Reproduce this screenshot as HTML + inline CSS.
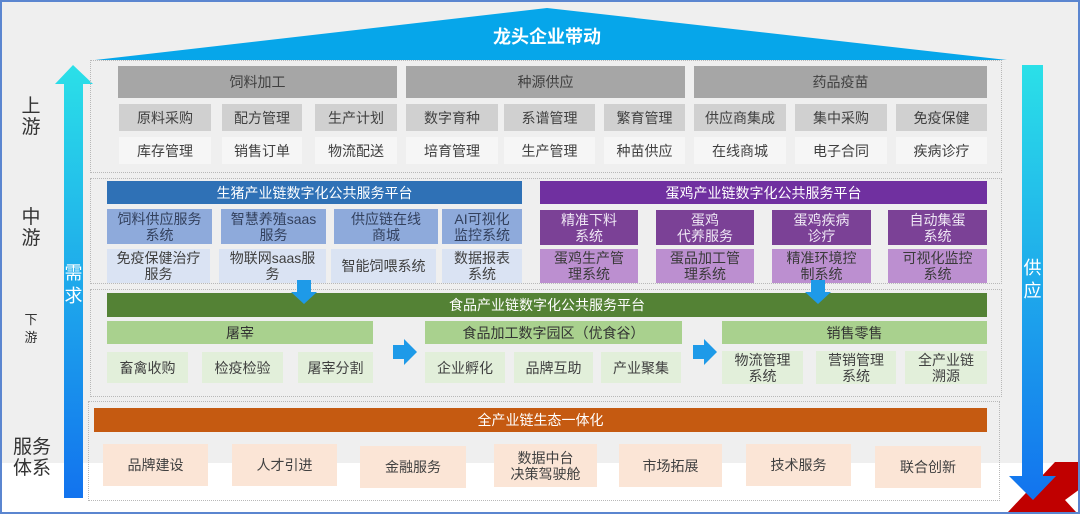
<!DOCTYPE html>
<html><head><meta charset="utf-8">
<style>
html,body{margin:0;padding:0;}
body{width:1080px;height:514px;position:relative;overflow:hidden;background:#efefef;font-family:"Liberation Sans","Noto Sans CJK SC",sans-serif;color:#404040;}
.abs{position:absolute;}
.b{position:absolute;display:flex;align-items:center;justify-content:center;text-align:center;font-size:14px;line-height:16px;box-sizing:border-box;}
.sec{position:absolute;border:1px dotted #b8b8b8;box-sizing:border-box;}
.lbl{position:absolute;font-size:19px;line-height:21px;color:#333;text-align:center;}
.h{background:#a6a6a6;color:#404040;font-size:14px;}
.g2{background:#d0d0d0;}
.g3{background:#f6f6f6;}
.pb{background:#2f71b6;color:#fff;}
.pa{background:#8eaadb;color:#33415e;}
.pc{background:#dae3f3;}
.eb{background:#7030a0;color:#fff;}
.ea{background:#7b4196;color:#eee6f4;}
.ec{background:#bc8fd0;color:#3a3a3a;}
.gb{background:#548235;color:#fff;}
.gs{background:#a9d18e;color:#333;}
.gi{background:#e2efda;}
.ob{background:#c55a11;color:#fff;}
.oi{background:#fbe5d6;}
</style></head>
<body>
<div class="abs" style="left:0;top:463px;width:1080px;height:51px;background:#fff;"></div>

<svg class="abs" style="left:0;top:0" width="1080" height="514">
<defs>
<linearGradient id="ga" x1="0" y1="0" x2="0" y2="1">
<stop offset="0" stop-color="#2be0e8"/><stop offset="1" stop-color="#1273ee"/>
</linearGradient>
</defs>
<polygon points="95,60 547,8 1007,60" fill="#06a6ea"/>
<polygon points="1008,512 1055,462 1080,462 1080,489 1065,500 1076,512" fill="#c00000"/>
<polygon points="64,498 64,84 55,84 73,65 93,84 83,84 83,498" fill="url(#ga)"/>
<polygon points="1022,65 1043,65 1043,476 1056,476 1033,500 1009,476 1022,476" fill="url(#ga)"/>
</svg>

<div class="abs" style="left:447px;top:26px;width:200px;text-align:center;color:#fff;font-weight:bold;font-size:18px;line-height:22px;">龙头企业带动</div>

<div class="lbl" style="left:18px;top:96px;width:26px;">上<br>游</div>
<div class="lbl" style="left:18px;top:207px;width:26px;">中<br>游</div>
<div class="lbl" style="left:22px;top:311px;width:18px;font-size:13px;line-height:18px;">下<br>游</div>
<div class="lbl" style="left:11px;top:437px;width:42px;">服务<br>体系</div>

<div class="abs" style="left:63px;top:262px;width:21px;text-align:center;color:#fff;font-size:18px;line-height:23px;">需<br>求</div>
<div class="abs" style="left:1022px;top:257px;width:21px;text-align:center;color:#fff;font-size:18px;line-height:23px;">供<br>应</div>

<!-- Section 1 -->
<div class="sec" style="left:90px;top:60px;width:912px;height:113px;"></div>
<div class="b h" style="left:118px;top:66px;width:279px;height:32px;">饲料加工</div>
<div class="b h" style="left:406px;top:66px;width:279px;height:32px;">种源供应</div>
<div class="b h" style="left:694px;top:66px;width:293px;height:32px;">药品疫苗</div>

<div class="b g2" style="left:119px;top:104px;width:92px;height:27px;">原料采购</div>
<div class="b g2" style="left:222px;top:104px;width:80px;height:27px;">配方管理</div>
<div class="b g2" style="left:315px;top:104px;width:82px;height:27px;">生产计划</div>
<div class="b g2" style="left:406px;top:104px;width:92px;height:27px;">数字育种</div>
<div class="b g2" style="left:504px;top:104px;width:91px;height:27px;">系谱管理</div>
<div class="b g2" style="left:604px;top:104px;width:81px;height:27px;">繁育管理</div>
<div class="b g2" style="left:694px;top:104px;width:92px;height:27px;">供应商集成</div>
<div class="b g2" style="left:795px;top:104px;width:92px;height:27px;">集中采购</div>
<div class="b g2" style="left:896px;top:104px;width:91px;height:27px;">免疫保健</div>

<div class="b g3" style="left:119px;top:137px;width:92px;height:27px;">库存管理</div>
<div class="b g3" style="left:222px;top:137px;width:80px;height:27px;">销售订单</div>
<div class="b g3" style="left:315px;top:137px;width:82px;height:27px;">物流配送</div>
<div class="b g3" style="left:406px;top:137px;width:92px;height:27px;">培育管理</div>
<div class="b g3" style="left:504px;top:137px;width:91px;height:27px;">生产管理</div>
<div class="b g3" style="left:604px;top:137px;width:81px;height:27px;">种苗供应</div>
<div class="b g3" style="left:694px;top:137px;width:92px;height:27px;">在线商城</div>
<div class="b g3" style="left:795px;top:137px;width:92px;height:27px;">电子合同</div>
<div class="b g3" style="left:896px;top:137px;width:91px;height:27px;">疾病诊疗</div>

<!-- Section 2 -->
<div class="sec" style="left:90px;top:178px;width:912px;height:106px;"></div>
<div class="b pb" style="left:107px;top:181px;width:415px;height:23px;">生猪产业链数字化公共服务平台</div>
<div class="b eb" style="left:540px;top:181px;width:447px;height:23px;">蛋鸡产业链数字化公共服务平台</div>

<div class="b pa" style="left:107px;top:209px;width:105px;height:35px;">饲料供应服务<br>系统</div>
<div class="b pa" style="left:221px;top:209px;width:105px;height:35px;">智慧养殖saas<br>服务</div>
<div class="b pa" style="left:334px;top:209px;width:104px;height:35px;">供应链在线<br>商城</div>
<div class="b pa" style="left:442px;top:209px;width:80px;height:35px;">AI可视化<br>监控系统</div>

<div class="b pc" style="left:107px;top:249px;width:103px;height:34px;">免疫保健治疗<br>服务</div>
<div class="b pc" style="left:219px;top:249px;width:107px;height:34px;">物联网saas服<br>务</div>
<div class="b pc" style="left:331px;top:249px;width:105px;height:34px;">智能饲喂系统</div>
<div class="b pc" style="left:442px;top:249px;width:80px;height:34px;">数据报表<br>系统</div>

<div class="b ea" style="left:540px;top:210px;width:98px;height:35px;">精准下料<br>系统</div>
<div class="b ea" style="left:656px;top:210px;width:98px;height:35px;">蛋鸡<br>代养服务</div>
<div class="b ea" style="left:772px;top:210px;width:99px;height:35px;">蛋鸡疾病<br>诊疗</div>
<div class="b ea" style="left:888px;top:210px;width:99px;height:35px;">自动集蛋<br>系统</div>

<div class="b ec" style="left:540px;top:249px;width:98px;height:34px;">蛋鸡生产管<br>理系统</div>
<div class="b ec" style="left:656px;top:249px;width:98px;height:34px;">蛋品加工管<br>理系统</div>
<div class="b ec" style="left:772px;top:249px;width:99px;height:34px;">精准环境控<br>制系统</div>
<div class="b ec" style="left:888px;top:249px;width:99px;height:34px;">可视化监控<br>系统</div>

<!-- Section 3 -->
<div class="sec" style="left:90px;top:289px;width:912px;height:108px;"></div>
<div class="b gb" style="left:107px;top:293px;width:880px;height:24px;">食品产业链数字化公共服务平台</div>
<div class="b gs" style="left:107px;top:321px;width:266px;height:23px;">屠宰</div>
<div class="b gs" style="left:425px;top:321px;width:257px;height:23px;">食品加工数字园区（优食谷）</div>
<div class="b gs" style="left:722px;top:321px;width:265px;height:23px;">销售零售</div>

<div class="b gi" style="left:107px;top:352px;width:81px;height:31px;">畜禽收购</div>
<div class="b gi" style="left:202px;top:352px;width:81px;height:31px;">检疫检验</div>
<div class="b gi" style="left:298px;top:352px;width:75px;height:31px;">屠宰分割</div>
<div class="b gi" style="left:425px;top:352px;width:80px;height:31px;">企业孵化</div>
<div class="b gi" style="left:514px;top:352px;width:79px;height:31px;">品牌互助</div>
<div class="b gi" style="left:601px;top:352px;width:80px;height:31px;">产业聚集</div>
<div class="b gi" style="left:722px;top:351px;width:81px;height:33px;">物流管理<br>系统</div>
<div class="b gi" style="left:816px;top:351px;width:80px;height:33px;">营销管理<br>系统</div>
<div class="b gi" style="left:905px;top:351px;width:82px;height:33px;">全产业链<br>溯源</div>

<!-- Section 4 -->
<div class="sec" style="left:88px;top:401px;width:912px;height:100px;"></div>
<div class="b ob" style="left:94px;top:408px;width:893px;height:24px;">全产业链生态一体化</div>
<div class="b oi" style="left:103px;top:444px;width:105px;height:42px;">品牌建设</div>
<div class="b oi" style="left:232px;top:444px;width:105px;height:42px;">人才引进</div>
<div class="b oi" style="left:360px;top:446px;width:106px;height:42px;">金融服务</div>
<div class="b oi" style="left:494px;top:444px;width:103px;height:43px;">数据中台<br>决策驾驶舱</div>
<div class="b oi" style="left:619px;top:444px;width:103px;height:43px;">市场拓展</div>
<div class="b oi" style="left:746px;top:444px;width:105px;height:42px;">技术服务</div>
<div class="b oi" style="left:875px;top:446px;width:106px;height:42px;">联合创新</div>

<!-- small arrows -->
<svg class="abs" style="left:0;top:0" width="1080" height="514">
<polygon points="297,280 311,280 311,292 317,292 304,304 291,292 297,292" fill="#1e9ae8"/>
<polygon points="811,280 825,280 825,292 831,292 818,304 805,292 811,292" fill="#1e9ae8"/>
<polygon points="393,345 404,345 404,339 417,352 404,365 404,359 393,359" fill="#1e9ae8"/>
<polygon points="693,345 704,345 704,339 717,352 704,365 704,359 693,359" fill="#1e9ae8"/>
</svg>

<div class="abs" style="left:0;top:0;width:1080px;height:514px;box-sizing:border-box;border:2px solid #5b86d0;"></div>
</body></html>
